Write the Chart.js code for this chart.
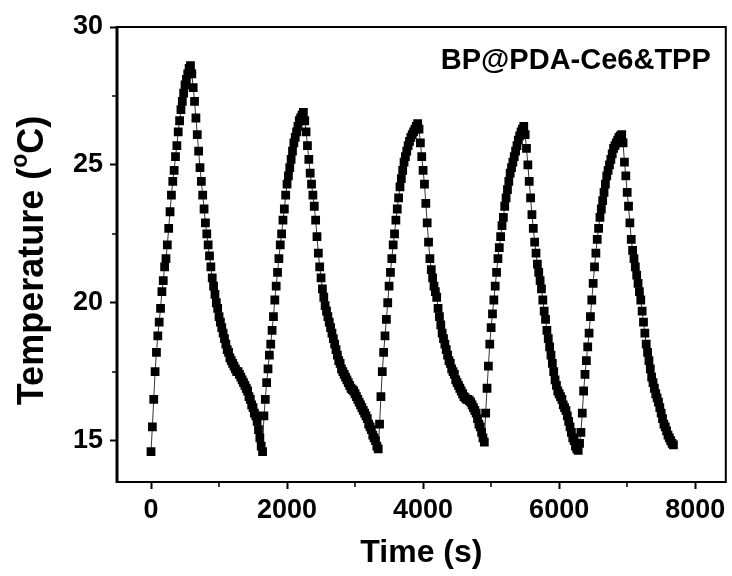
<!DOCTYPE html>
<html>
<head>
<meta charset="utf-8">
<script src="https://cdn.jsdelivr.net/npm/chart.js@4.4.0/dist/chart.umd.min.js"></script>
<style>
  html, body { margin: 0; padding: 0; background: #fff; }
  #wrap { width: 732px; height: 576px; }
</style>
</head>
<body>
<div id="wrap"><canvas id="chart" width="732" height="576"></canvas></div>
<script>
// one reading every 20 s (laser on / laser off)
const sampleInterval = 20;

const heat1 = [14.6, 15.5, 16.5, 17.5, 18.2, 18.8, 19.3, 19.8, 20.4, 20.8, 21.3, 21.6, 22.1, 22.7, 23.3,
  23.9, 24.4, 24.8, 25.3, 25.7, 26.2, 26.6, 27.0, 27.3, 27.6, 27.9, 28.1, 28.3, 28.5, 28.6];
const cool1 = [28.3, 27.8, 27.3, 26.7, 26.1, 25.5, 24.9, 24.4, 23.9, 23.4, 22.9, 22.5, 22.1, 21.7, 21.3,
  20.9, 20.6, 20.3, 20.0, 19.8, 19.5, 19.3, 19.1, 18.9, 18.7, 18.5, 18.3, 18.2, 18.0, 17.9, 17.8, 17.7,
  17.6, 17.5, 17.5, 17.4, 17.3, 17.2, 17.1, 17.0, 16.9, 16.8, 16.6, 16.5, 16.3, 16.2, 16.0, 15.9, 15.7,
  15.4, 15.1, 14.8, 14.6];
const heat2 = [15.9, 16.5, 17.1, 17.6, 18.1, 18.5, 19.0, 19.5, 20.1, 20.6, 21.1, 21.6, 22.1, 22.5, 23.0,
  23.4, 23.9, 24.3, 24.6, 24.9, 25.2, 25.5, 25.8, 26.0, 26.2, 26.4, 26.6, 26.7, 26.8, 26.9];
const cool2 = [26.6, 26.2, 25.7, 25.2, 24.7, 24.3, 23.9, 23.5, 23.0, 22.4, 21.8, 21.3, 20.9, 20.5, 20.2,
  19.9, 19.7, 19.5, 19.3, 19.1, 18.9, 18.7, 18.5, 18.3, 18.1, 17.9, 17.8, 17.6, 17.5, 17.4, 17.3, 17.2,
  17.1, 17.0, 16.9, 16.85, 16.8, 16.7, 16.6, 16.5, 16.4, 16.3, 16.2, 16.1, 16.0, 15.9, 15.8, 15.6, 15.5,
  15.4, 15.2, 15.1, 15.0, 14.8, 14.7];
const heat3 = [15.6, 16.6, 17.5, 18.2, 18.8, 19.4, 20.0, 20.6, 21.1, 21.6, 22.1, 22.5, 23.0, 23.4, 23.8,
  24.2, 24.5, 24.8, 25.1, 25.3, 25.5, 25.7, 25.85, 26.0, 26.1, 26.2, 26.3, 26.4, 26.5];
const cool3 = [26.3, 25.8, 25.3, 24.8, 24.3, 23.6, 22.9, 22.2, 21.6, 21.2, 20.9, 20.6, 20.4, 20.2, 19.8,
  19.5, 19.2, 18.9, 18.7, 18.5, 18.3, 18.1, 17.9, 17.8, 17.6, 17.5, 17.4, 17.2, 17.1, 17.0, 16.9, 16.8,
  16.7, 16.6, 16.55, 16.5, 16.5, 16.45, 16.4, 16.3, 16.2, 16.1, 16.0, 15.8, 15.6, 15.5, 15.3, 15.1, 14.95];
const heat4 = [16.0, 16.9, 17.7, 18.5, 19.1, 19.6, 20.1, 20.6, 21.1, 21.6, 22.0, 22.4, 22.8, 23.1, 23.5,
  23.8, 24.1, 24.4, 24.7, 24.9, 25.1, 25.3, 25.5, 25.7, 25.9, 26.05, 26.2, 26.3, 26.4];
const cool4 = [26.1, 25.6, 25.0, 24.4, 23.8, 23.2, 22.7, 22.2, 21.8, 21.4, 21.1, 20.8, 20.5, 20.1, 19.7,
  19.4, 19.0, 18.7, 18.4, 18.1, 17.8, 17.5, 17.2, 17.0, 16.8, 16.7, 16.6, 16.5, 16.3, 16.2, 16.1, 15.9,
  15.7, 15.5, 15.3, 15.1, 15.0, 14.8, 14.7, 14.65];
const heat5 = [14.9, 15.3, 16.0, 16.8, 17.4, 17.9, 18.4, 18.9, 19.5, 20.1, 20.7, 21.3, 21.8, 22.3, 22.7,
  23.1, 23.4, 23.7, 24.0, 24.3, 24.6, 24.8, 25.0, 25.2, 25.4, 25.6, 25.7, 25.8, 25.9, 26.0, 26.05, 26.1];
const cool5 = [25.8, 25.1, 24.6, 24.0, 23.5, 22.9, 22.3, 21.9, 21.6, 21.3, 21.0, 20.7, 20.4, 20.1, 19.7,
  19.3, 18.9, 18.5, 18.2, 17.9, 17.6, 17.3, 17.1, 16.9, 16.7, 16.55, 16.4, 16.2, 16.0, 15.8, 15.6, 15.5,
  15.35, 15.2, 15.1, 15.0, 14.9, 14.85];

const xTicks = [0, 2000, 4000, 6000, 8000];
const xMinorTicks = [1000, 3000, 5000, 7000];
const yTicks = [15, 20, 25, 30];
const yMinorTicks = [17.5, 22.5, 27.5];
const sampleLabel = 'BP@PDA-Ce6&TPP';

const FONT = '"Liberation Sans", Arial, Helvetica, sans-serif';

const temps = [].concat(heat1, cool1, heat2, cool2, heat3, cool3, heat4, cool4, heat5, cool5);
const points = temps.map((t, i) => ({ x: i * sampleInterval, y: t }));

// frame, minor ticks, in-plot label and the y title (needs a superscript o)
const decorations = {
  id: 'decorations',
  afterDraw(chart) {
    const { ctx, chartArea: a, scales: { x, y } } = chart;
    ctx.save();
    ctx.strokeStyle = '#000';
    ctx.lineWidth = 2;
    ctx.strokeRect(a.left, a.top, a.right - a.left, a.bottom - a.top);
    ctx.lineWidth = 3;
    ctx.beginPath();
    ctx.moveTo(a.left, a.top - 1);
    ctx.lineTo(a.left, a.bottom + 1);
    ctx.stroke();

    ctx.lineWidth = 1.5;
    ctx.beginPath();
    xMinorTicks.forEach(v => {
      const px = Math.round(x.getPixelForValue(v));
      ctx.moveTo(px, a.bottom);
      ctx.lineTo(px, a.bottom + 5);
    });
    yMinorTicks.forEach(v => {
      const py = Math.round(y.getPixelForValue(v));
      ctx.moveTo(a.left, py);
      ctx.lineTo(a.left - 5, py);
    });
    ctx.stroke();

    ctx.fillStyle = '#000';
    ctx.font = 'bold 29px ' + FONT;
    ctx.textAlign = 'right';
    ctx.textBaseline = 'alphabetic';
    ctx.fillText(sampleLabel, a.right - 15, a.top + 42);

    const big = 'bold 36px ' + FONT, small = 'bold 23px ' + FONT;
    ctx.translate(33, (a.top + a.bottom) / 2 + 6);
    ctx.rotate(-Math.PI / 2);
    ctx.textAlign = 'left';
    ctx.textBaseline = 'middle';
    ctx.font = big;
    const w1 = ctx.measureText('Temperature (').width;
    const w3 = ctx.measureText('C)').width;
    ctx.font = small;
    const w2 = ctx.measureText('o').width;
    let cx = -(w1 + w2 + w3) / 2;
    ctx.font = big;
    ctx.fillText('Temperature (', cx, 0);
    cx += w1;
    ctx.font = small;
    ctx.fillText('o', cx, -12);
    cx += w2;
    ctx.font = big;
    ctx.fillText('C)', cx, 0);
    ctx.restore();
  }
};

new Chart(document.getElementById('chart').getContext('2d'), {
  type: 'line',
  data: {
    datasets: [{
      data: points,
      borderColor: '#000',
      borderWidth: 0.8,
      pointStyle: 'rect',
      pointRadius: 6.2,
      pointBorderWidth: 0,
      pointBackgroundColor: '#000',
      tension: 0
    }]
  },
  options: {
    responsive: false,
    animation: false,
    layout: { padding: { top: 27, right: 5, left: 0, bottom: 0 } },
    plugins: { legend: { display: false }, tooltip: { enabled: false } },
    scales: {
      x: {
        type: 'linear',
        min: -500,
        max: 8450,
        afterBuildTicks: s => { s.ticks = xTicks.map(v => ({ value: v })); },
        afterFit: s => { s.height = 94; },
        border: { display: false },
        grid: { drawOnChartArea: false, tickLength: 7, tickWidth: 2, tickColor: '#000' },
        ticks: {
          color: '#000', padding: 5, maxRotation: 0,
          font: { family: FONT, size: 27, weight: 'bold' },
          callback: v => String(v)
        },
        title: {
          display: true, text: 'Time (s)', color: '#000',
          font: { family: FONT, size: 32, weight: 'bold' },
          padding: { top: 0, bottom: 4 }
        }
      },
      y: {
        min: 13.5,
        max: 30,
        afterBuildTicks: s => { s.ticks = yTicks.map(v => ({ value: v })); },
        afterFit: s => { s.width = 117; },
        border: { display: false },
        grid: { drawOnChartArea: false, tickLength: 7, tickWidth: 2, tickColor: '#000' },
        ticks: {
          color: '#000', padding: 7,
          font: { family: FONT, size: 27, weight: 'bold' },
          callback: v => String(v)
        }
      }
    }
  },
  plugins: [decorations]
});
</script>
</body>
</html>
